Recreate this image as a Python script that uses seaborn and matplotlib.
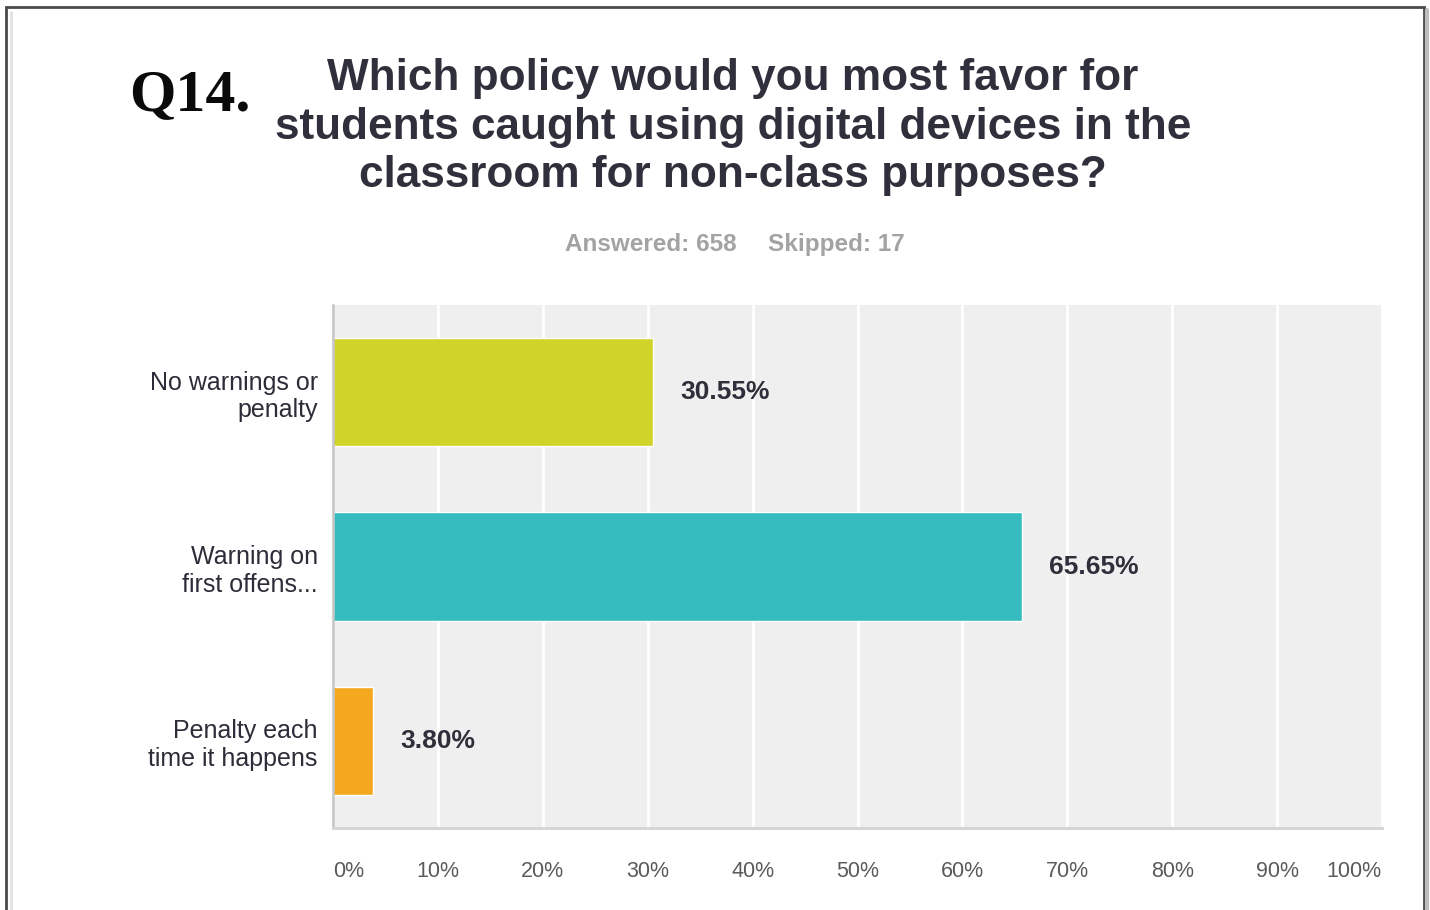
import matplotlib
matplotlib.use("Agg")
import matplotlib.pyplot as plt
from matplotlib.patches import Rectangle
from matplotlib.lines import Line2D
import seaborn as sns

# Survey results for Q14
categories = ["No warnings or\npenalty", "Warning on\nfirst offens...", "Penalty each\ntime it happens"]
percentages = [30.55, 65.65, 3.80]
bar_colors = ["#d0d42a", "#36bcbe", "#f3a81f"]
tick_values = [0, 10, 20, 30, 40, 50, 60, 70, 80, 90, 100]
tick_labels = [f"{t}%" for t in tick_values]
answered = 658
skipped = 17

sns.set_theme(style="white")
plt.rcParams["font.family"] = ["Liberation Sans", "DejaVu Sans"]

W, H = 1430, 910
fig = plt.figure(figsize=(W / 100, H / 100), dpi=100)
fig.patch.set_facecolor("white")

def fx(px):
    return px / W

def fy(py):
    return 1 - py / H

ax = fig.add_axes([fx(333), fy(828), fx(1382) - fx(333), fy(305) - fy(828)])
ax.set_facecolor("#efefef")

sns.barplot(x=percentages, y=categories, hue=categories, palette=bar_colors,
            orient="h", width=0.62, legend=False, saturation=1, ax=ax)

ax.set_xlim(0, 100)
ax.set_xticks(tick_values)
ax.set_xticklabels(tick_labels, fontsize=15.5, color="#5a5a5a")
for lbl, t in zip(ax.get_xticklabels(), tick_values):
    if t == 0:
        lbl.set_ha("left")
    elif t == 100:
        lbl.set_ha("right")
ax.tick_params(axis="x", length=0, pad=24)
ax.tick_params(axis="y", length=0, pad=11)
ax.set_yticks(range(len(categories)))
ax.set_yticklabels(categories, fontsize=18, color="#2c2d38", linespacing=1.2)
ax.set_xlabel("")
ax.set_ylabel("")

ax.xaxis.grid(True, color="white", linewidth=2)
ax.set_axisbelow(True)
for side in ["top", "right"]:
    ax.spines[side].set_visible(False)
ax.spines["left"].set_color("#c4c4c4")
ax.spines["left"].set_linewidth(1.8)
ax.spines["bottom"].set_color("#d6d6d6")
ax.spines["bottom"].set_linewidth(2.2)

# Value labels to the right of each bar
for i, v in enumerate(percentages):
    ax.text(v + 2.6, i, f"{v:.2f}%", va="center", ha="left",
            fontsize=19, fontweight="bold", color="#2e2f3a")

# Headline
fig.text(fx(129), fy(110), "Q14.", family=["Liberation Serif", "DejaVu Serif"],
         fontweight="bold", fontsize=43, color="#0a0a0a", ha="left", va="baseline")
fig.text(fx(733), fy(127),
         "Which policy would you most favor for\n"
         "students caught using digital devices in the\n"
         "classroom for non-class purposes?",
         ha="center", va="center", fontsize=31.8, fontweight="bold",
         color="#2f303b", linespacing=1.24)
fig.text(fx(737), fy(245), f"Answered: {answered}", ha="right", va="center",
         fontsize=17.5, fontweight="bold", color="#a3a3a3")
fig.text(fx(768), fy(245), f"Skipped: {skipped}", ha="left", va="center",
         fontsize=17.5, fontweight="bold", color="#a3a3a3")

# Page frame
fig.patches.append(Rectangle((fx(6), fy(925)), fx(1424) - fx(6), fy(7) - fy(925),
                             transform=fig.transFigure, fill=False,
                             edgecolor="#4a4a4a", linewidth=2))
fig.lines.append(Line2D([fx(11), fx(11)], [0, fy(12)], transform=fig.transFigure,
                        color="#e2e2e2", linewidth=2))
fig.lines.append(Line2D([fx(1427), fx(1427)], [0, fy(10)], transform=fig.transFigure,
                        color="#bdbdbd", linewidth=3))

fig.savefig("out.png", dpi=100, facecolor="white")
